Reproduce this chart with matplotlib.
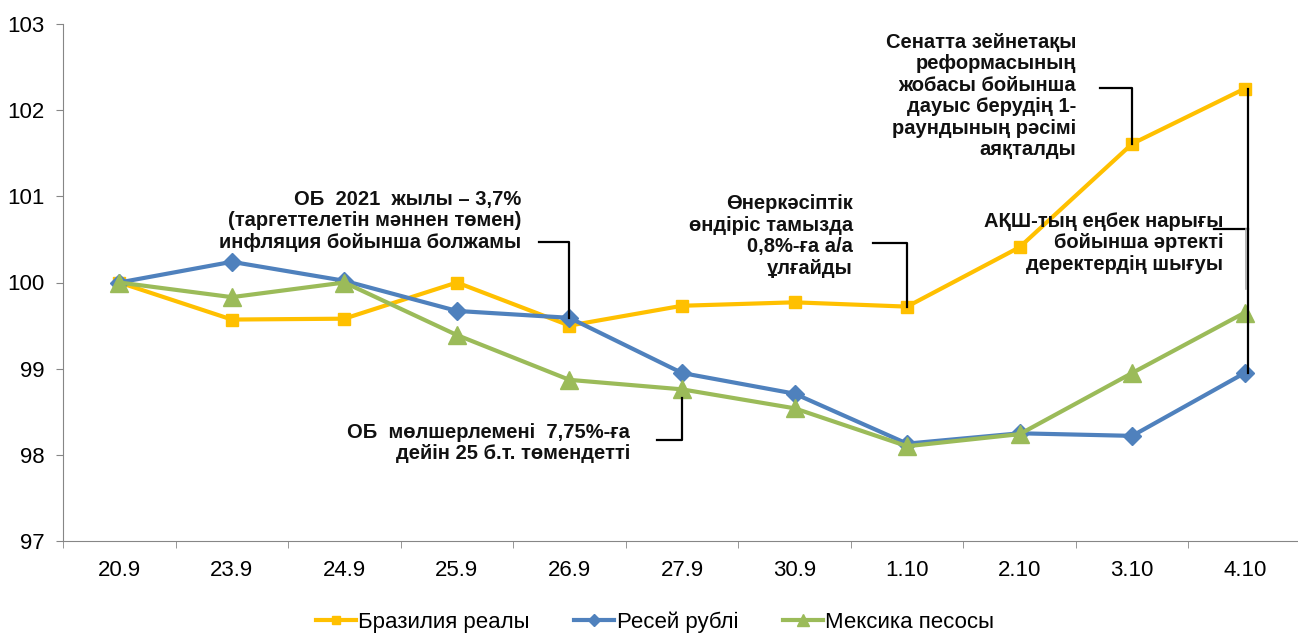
import matplotlib
matplotlib.use("Agg")
import matplotlib.pyplot as plt

plt.rcParams['font.family'] = ['Liberation Sans', 'DejaVu Sans']

categories = ["20.9", "23.9", "24.9", "25.9", "26.9", "27.9", "30.9", "1.10", "2.10", "3.10", "4.10"]
brazil = [100.0, 99.57, 99.58, 100.0, 99.50, 99.73, 99.77, 99.72, 100.41, 101.61, 102.25]
russia = [100.0, 100.24, 100.02, 99.67, 99.59, 98.95, 98.71, 98.13, 98.25, 98.22, 98.95]
mexico = [100.0, 99.83, 100.0, 99.39, 98.87, 98.76, 98.54, 98.10, 98.24, 98.95, 99.65]
series_names = ["Бразилия реалы", "Ресей рублі", "Мексика песосы"]
yticks = [97, 98, 99, 100, 101, 102, 103]

ann_texts = [
    "ОБ  2021  жылы – 3,7%\n(таргеттелетін мәннен төмен)\nинфляция бойынша болжамы",
    "ОБ  мөлшерлемені  7,75%-ға\nдейін 25 б.т. төмендетті",
    "Өнеркәсіптік\nөндіріс тамызда\n0,8%-ға а/а\nұлғайды",
    "Сенатта зейнетақы\nреформасының\nжобасы бойынша\nдауыс берудің 1-\nраундының рәсімі\nаяқталды",
    "АҚШ-тың еңбек нарығы\nбойынша әртекті\nдеректердің шығуы",
]

fig = plt.figure(figsize=(12.98, 6.35), dpi=100)
ax = fig.add_axes([63/1298, 1-541/635, (1301-63)/1298, (541-24)/635])

x = list(range(len(categories)))
ax.plot(x, brazil, color="#FFC000", lw=3, marker="s", ms=9, label=series_names[0], zorder=3)
ax.plot(x, russia, color="#4F81BD", lw=3, marker="D", ms=9, label=series_names[1], zorder=3)
ax.plot(x, mexico, color="#9BBB59", lw=3, marker="^", ms=13, label=series_names[2], zorder=3)

ax.set_xlim(-0.5, len(categories) - 0.5)
ax.set_ylim(97, 103)
ax.set_yticks(yticks)
ax.set_xticks(x)
ax.set_xticklabels(categories)
ax.set_xticks([i - 0.5 for i in range(len(categories) + 1)], minor=True)
ax.tick_params(axis='x', which='major', length=0, pad=14, labelsize=16)
ax.tick_params(axis='x', which='minor', length=5, color="#868686")
ax.tick_params(axis='y', length=5, color="#868686", labelsize=16, pad=8)
for s in ["top", "right"]:
    ax.spines[s].set_visible(False)
for s in ["left", "bottom"]:
    ax.spines[s].set_color("#868686")

def ptext(px, py, s):
    fig.text(px/1298, 1-py/635, s, ha="right", va="center", fontsize=14.5,
             fontweight="bold", linespacing=1.17, color="#111111")

ptext(521, 221, ann_texts[0])
ptext(630, 443, ann_texts[1])
ptext(853, 236, ann_texts[2])
ptext(1076, 96, ann_texts[3])
ptext(1223, 243, ann_texts[4])

lk = dict(color="black", lw=1.6, zorder=4)
ax.plot([3.73, 4.0, 4.0], [100.47, 100.47, russia[4]], **lk)
ax.plot([4.78, 5.0, 5.0], [98.17, 98.17, mexico[5] - 0.1], **lk)
ax.plot([6.70, 7.0, 7.0], [100.46, 100.46, brazil[7]], **lk)
ax.plot([8.71, 9.0, 9.0], [102.26, 102.26, brazil[9]], **lk)
ax.plot([9.73, 10.03], [100.62, 100.62], **lk)
ax.plot([10.03, 10.03], [brazil[10], russia[10]], **lk)
ax.plot([10.01, 10.01], [100.62, 99.93], color="#aaaaaa", lw=1.2, zorder=4)

leg = fig.legend(loc="center", bbox_to_anchor=(655/1298, 1-622/635), ncol=3, frameon=False,
                 prop={'size': 16}, handlelength=1.8, columnspacing=2.0,
                 handletextpad=0.1, markerscale=0.7)
fig.savefig("out.png", dpi=100)
